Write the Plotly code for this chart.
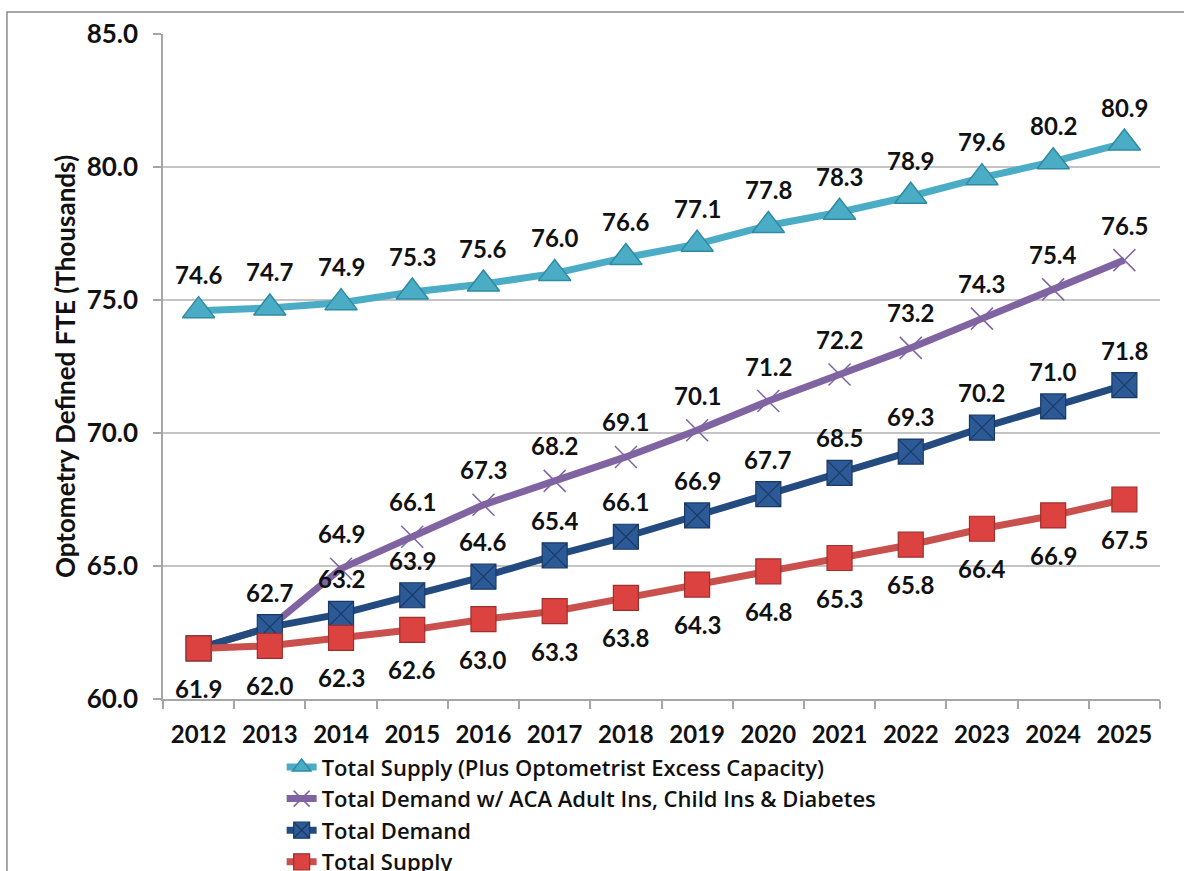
import plotly.graph_objects as go

years = [str(y) for y in range(2012, 2026)]

supply_plus_excess = [74.6, 74.7, 74.9, 75.3, 75.6, 76.0, 76.6, 77.1, 77.8, 78.3, 78.9, 79.6, 80.2, 80.9]
demand_aca = [61.9, 62.7, 64.9, 66.1, 67.3, 68.2, 69.1, 70.1, 71.2, 72.2, 73.2, 74.3, 75.4, 76.5]
total_demand = [61.9, 62.7, 63.2, 63.9, 64.6, 65.4, 66.1, 66.9, 67.7, 68.5, 69.3, 70.2, 71.0, 71.8]
total_supply = [61.9, 62.0, 62.3, 62.6, 63.0, 63.3, 63.8, 64.3, 64.8, 65.3, 65.8, 66.4, 66.9, 67.5]

# which points carry a value label (overlapping ones at the start are left off)
show_aca = [False, False] + [True] * 12
show_demand = [False] + [True] * 13
show_supply = [True] * 14
show_plus = [True] * 14

FONT = "Lato"
LEGEND_FONT = "Open Sans"

series = [
    dict(name="Total Supply (Plus Optometrist Excess Capacity)", y=supply_plus_excess,
         line="#4bacc6", marker=dict(symbol="triangle-up", size=28, color="#4bacc6",
                                     line=dict(color="#2f8aa3", width=1.5)),
         show=show_plus, shift=36),
    dict(name="Total Demand w/ ACA Adult Ins, Child Ins & Diabetes", y=demand_aca,
         line="#8064a2", marker=dict(symbol="x-thin", size=22, color="#8064a2",
                                     line=dict(color="#8064a2", width=1.5)),
         show=show_aca, shift=35),
    dict(name="Total Demand", y=total_demand,
         line="#234b80", marker=dict(symbol="square-x", size=25, color="#2b5a96",
                                     line=dict(color="#1a3a66", width=1.2)),
         show=show_demand, shift=35),
    dict(name="Total Supply", y=total_supply,
         line="#c9504c", marker=dict(symbol="square", size=25, color="#dc4340",
                                     line=dict(color="#9e2f2c", width=1.2)),
         show=show_supply, shift=-40),
]

fig = go.Figure()
annotations = []
for s in series:
    fig.add_trace(go.Scatter(
        x=years, y=s["y"], name=s["name"], mode="lines+markers",
        line=dict(color=s["line"], width=7),
        marker=s["marker"],
    ))
    for i, (v, on) in enumerate(zip(s["y"], s["show"])):
        if on:
            # category index as the x position of the value label
            annotations.append(dict(
                x=i, y=v, xref="x", yref="y", text=f"<b>{v:.1f}</b>",
                showarrow=False, yshift=s["shift"],
                font=dict(family=FONT, size=24, color="#111111"),
            ))

# outer chart frame
shapes = [dict(type="rect", xref="paper", yref="paper",
               x0=-0.1565, x1=1.5, y0=-0.6, y1=1.033,
               line=dict(color="#8c8c8c", width=1.5), fillcolor="rgba(0,0,0,0)",
               layer="below")]

fig.update_layout(
    width=1184, height=871,
    margin=dict(l=163, r=24, t=34, b=172, autoexpand=False),
    paper_bgcolor="white", plot_bgcolor="white",
    font=dict(family=FONT, color="#111111"),
    showlegend=True,
    legend=dict(
        x=0.119, y=-0.071, xanchor="left", yanchor="top",
        orientation="v",
        font=dict(family=LEGEND_FONT, size=22, color="#111111", weight=600),
        bgcolor="rgba(0,0,0,0)", tracegroupgap=0, itemsizing="trace",
    ),
    annotations=annotations,
    shapes=shapes,
)

fig.update_xaxes(
    type="category", range=[-0.5, len(years) - 0.5], showgrid=False,
    showline=True, linecolor="#a6a6a6", linewidth=1.5,
    ticks="outside", tickson="boundaries", ticklen=8, tickcolor="#a6a6a6", tickwidth=1.5,
    tickfont=dict(family=FONT, size=24, color="#111111", weight="bold"),
    ticklabelstandoff=13,
)

fig.update_yaxes(
    range=[60, 85], dtick=5, tickformat=".1f",
    showgrid=True, gridcolor="#c4c4c4", gridwidth=1.5,
    showline=True, linecolor="#a6a6a6", linewidth=1.5,
    ticks="outside", ticklen=8, tickcolor="#a6a6a6", tickwidth=1.5,
    tickfont=dict(family=FONT, size=26, color="#111111", weight="bold"),
    ticklabelstandoff=10,
    zeroline=False,
    title=dict(text="Optometry Defined FTE (Thousands)",
               font=dict(family=FONT, size=26, color="#111111", weight="bold"),
               standoff=4),
)

fig.write_html("out.html")
